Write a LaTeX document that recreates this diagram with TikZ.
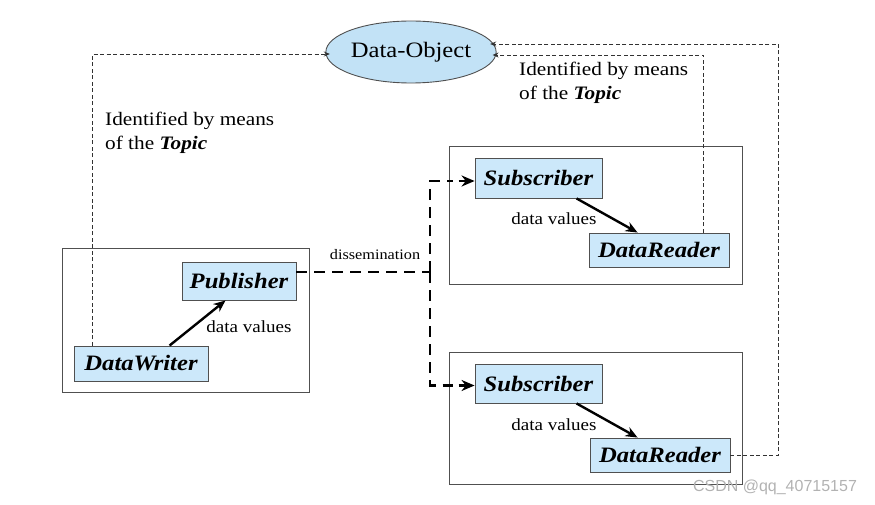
\documentclass[tikz,border=0pt]{standalone}
\usepackage{fontspec}
\usepackage{graphicx}
\setmainfont{Liberation Serif}
\newfontfamily\wmfont{Liberation Sans}
\usetikzlibrary{arrows.meta,shapes.geometric}
\definecolor{boxblue}{RGB}{204,232,250}
\definecolor{ellblue}{RGB}{194,226,246}
\definecolor{framegray}{RGB}{80,80,80}
\definecolor{linegray}{RGB}{50,50,50}
\newcommand{\sx}[1]{\scalebox{1.12}[1]{#1}}
\tikzset{
  comp/.style={draw=framegray, line width=0.9pt, fill=boxblue, inner sep=0pt,
    font=\fontsize{22}{24}\selectfont\bfseries\itshape},
  container/.style={draw=framegray, line width=0.9pt},
  idline/.style={draw=linegray, line width=0.8pt, dash pattern=on 4pt off 2.5pt,
    -{Stealth[length=6pt,width=5pt]}},
  flow/.style={line width=2.4pt, -{Stealth[length=12pt,width=10pt]}},
  diss/.style={line width=2.6pt, dash pattern=on 11pt off 7pt},
  lbl/.style={inner sep=0pt, font=\fontsize{17}{20}\selectfont},
  note/.style={inner sep=0pt, align=left, anchor=north west, font=\fontsize{19}{24}\selectfont},
}
\begin{document}
\begin{tikzpicture}[x=1pt,y=-1pt]
\useasboundingbox (0,0) rectangle (875,505);

% containers
\draw[container] (62,248) rectangle (309,392);
\draw[container] (449,146) rectangle (742,284);
\draw[container] (449,352) rectangle (742,484);

% data object
\node[ellipse, draw=framegray, line width=0.9pt, fill=ellblue, minimum width=163pt,
  minimum height=62pt, inner sep=0pt, font=\fontsize{22}{24}\selectfont] (obj) at (411,52) {\sx{Data-Object}};
\coordinate (inL) at (329.8,54);
\coordinate (inR1) at (490.2,44);
\coordinate (inR2) at (492.6,55);

% components
\node[comp, minimum width=114pt, minimum height=38pt] (pub) at (239,281) {\sx{Publisher}};
\node[comp, minimum width=134pt, minimum height=35pt] (dw) at (141,363.5) {\sx{DataWriter}};
\node[comp, minimum width=127pt, minimum height=40pt] (sub1) at (538.5,178) {\sx{Subscriber}};
\node[comp, minimum width=140pt, minimum height=34pt] (dr1) at (659,250) {\sx{DataReader}};
\node[comp, minimum width=127pt, minimum height=39pt] (sub2) at (538.5,383.5) {\sx{Subscriber}};
\node[comp, minimum width=140pt, minimum height=34pt] (dr2) at (660,455) {\sx{DataReader}};

% labels
\node[lbl] (dv1) at (249,327) {\sx{data values}};
\node[lbl] (dv2) at (554,219) {\sx{data values}};
\node[lbl] (dv3) at (554,425) {\sx{data values}};
\node[lbl, font=\fontsize{14.5}{16}\selectfont] (dis) at (375,255) {\sx{dissemination}};
\node[note] (id1) at (105,112) {\sx{Identified by means}\\\sx{of the \textbf{\textit{Topic}}}};
\node[note] (id2) at (519,62) {\sx{Identified by means}\\\sx{of the \textbf{\textit{Topic}}}};
\node[inner sep=0pt, text=black!30, font=\wmfont\fontsize{16}{18}\selectfont] (wm) at (775,487) {CSDN @qq\_40715157};

% data value arrows
\draw[flow] ([xshift=96pt]dw.north west) -- ([xshift=44pt]pub.south west);
\draw[flow] ([xshift=102pt]sub1.south west) -- ([xshift=49pt]dr1.north west);
\draw[flow] ([xshift=102pt]sub2.south west) -- ([xshift=48pt]dr2.north west);

% dissemination
\coordinate (j) at (430,272);
\draw[diss] ([yshift=9pt]pub.east) -- (j);
\draw[diss] (j) |- ([xshift=-22pt,yshift=-3pt]sub1.west);
\draw[diss] (j) |- ([xshift=-22pt,yshift=-2pt]sub2.west);
\draw[line width=2.4pt, -{Stealth[length=13pt,width=11pt]}] ([xshift=-16pt,yshift=-3pt]sub1.west) -- ([yshift=-3pt]sub1.west);
\draw[line width=2.4pt, -{Stealth[length=13pt,width=11pt]}] ([xshift=-16pt,yshift=-2pt]sub2.west) -- ([yshift=-2pt]sub2.west);

% identification lines
\draw[idline] ([xshift=19pt]dw.north west) |- (inL);
\draw[idline] ([xshift=-26pt]dr1.north east) |- (inR2);
\draw[idline] (dr2.east) -- ++(48,0) |- (inR1);
\end{tikzpicture}
\end{document}
